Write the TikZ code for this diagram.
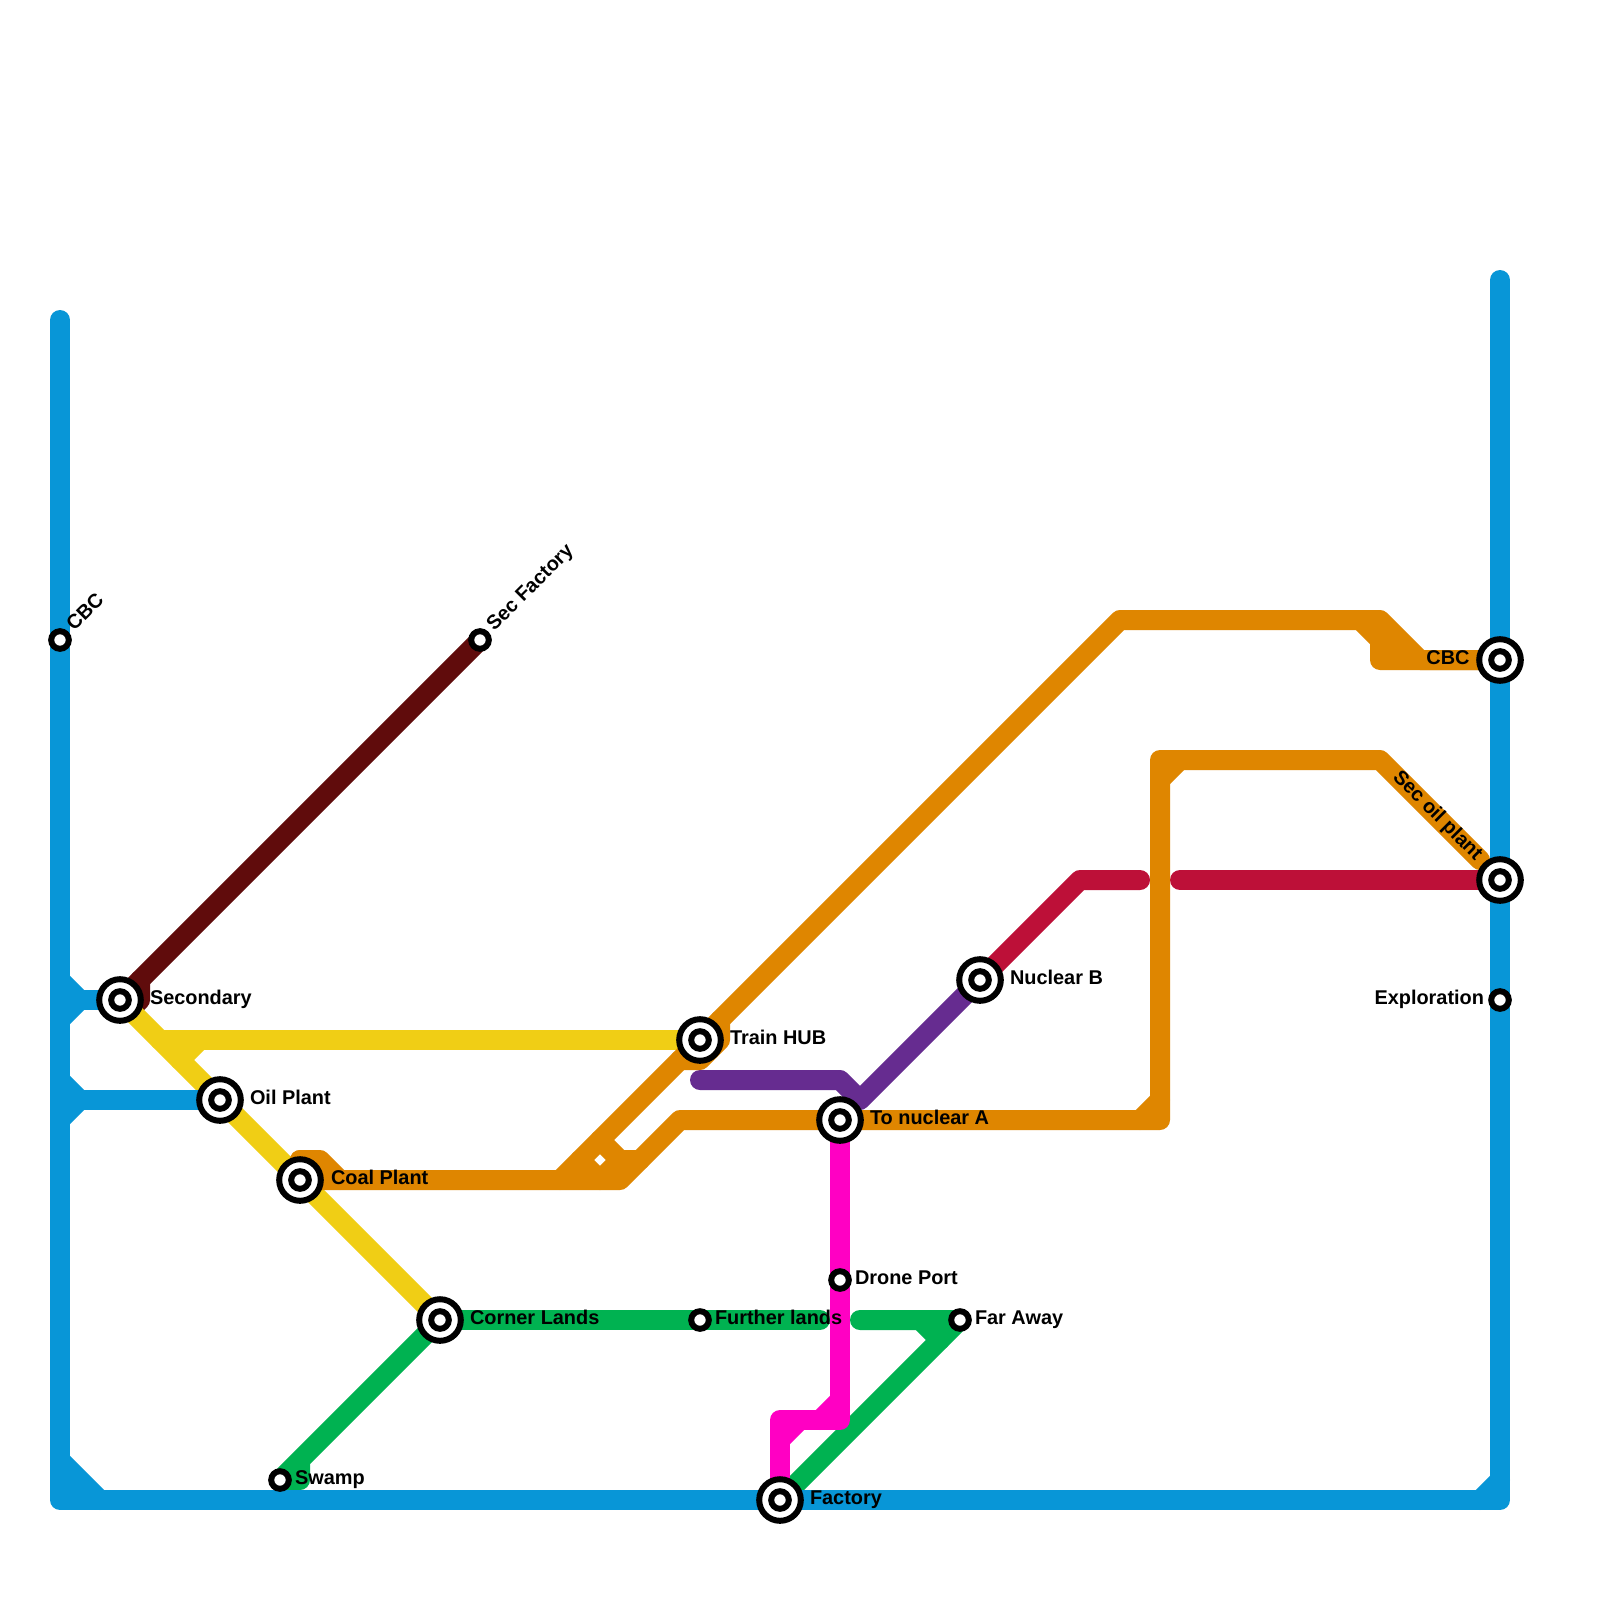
\documentclass[tikz,border=0pt]{standalone}
\usepackage{fontspec}
\setmainfont{Liberation Sans}[BoldFont={Liberation Sans Bold}]
\definecolor{lblue}{HTML}{0896D7}
\definecolor{lyellow}{HTML}{F0CE15}
\definecolor{lorange}{HTML}{DF8600}
\definecolor{lred}{HTML}{BD1038}
\definecolor{lpurple}{HTML}{662C90}
\definecolor{lpink}{HTML}{FF00C3}
\definecolor{lgreen}{HTML}{00B251}
\definecolor{lbrown}{HTML}{600C0C}
\tikzset{
  metro/.style={line width=20pt,line cap=round,line join=round},
  ringout/.style={circle,draw=black,fill=white,line width=6pt,minimum size=41.6pt,inner sep=0pt,outer sep=0pt},
  ringin/.style={circle,draw=black,fill=white,line width=6pt,minimum size=17.6pt,inner sep=0pt,outer sep=0pt},
  lab/.style={font=\fontsize{19.9pt}{24pt}\selectfont\bfseries,text=black,inner sep=0pt,outer sep=0pt},
  labr/.style={lab,anchor=base west},
  labl/.style={lab,anchor=base east}
}
\begin{document}
\begin{tikzpicture}[x=1pt,y=-1pt]
\useasboundingbox (0,0) rectangle (1600,1600);
\fill[white] (0,0) rectangle (1600,1600);
% stations
\coordinate (sSecondary) at (120,1000);
\coordinate (sOil) at (220,1100);
\coordinate (sCoal) at (300,1180);
\coordinate (sCorner) at (440,1320);
\coordinate (sHub) at (700,1040);
\coordinate (sNucA) at (840,1120);
\coordinate (sFactory) at (780,1500);
\coordinate (sNucB) at (980,980);
\coordinate (sCbcR) at (1500,660);
\coordinate (sSecOil) at (1500,880);
\coordinate (sExpl) at (1500,1000);
\coordinate (sFar) at (960,1320);
\coordinate (sDrone) at (840,1280);
\coordinate (sFurther) at (700,1320);
\coordinate (sSwamp) at (280,1480);
\coordinate (sCbcL) at (60,640);
\coordinate (sSecFac) at (480,640);
% waypoints: green
\coordinate (g1) at (820,1320);
\coordinate (g2) at (860,1320);
\coordinate (g3) at (920,1320);
\coordinate (g4) at (940,1340);
\coordinate (g5) at (300,1460);
\coordinate (g6) at (300,1480);
% waypoints: pink
\coordinate (p1) at (840,1420);
\coordinate (p2) at (780,1420);
\coordinate (p3) at (840,1400);
\coordinate (p4) at (820,1420);
\coordinate (p5) at (800,1420);
\coordinate (p6) at (780,1440);
% waypoints: brown
\coordinate (br1) at (140,980);
\coordinate (br2) at (140,1000);
\coordinate (br3) at (130,1010);
% waypoints: yellow
\coordinate (y1) at (160,1040);
\coordinate (y2) at (200,1040);
\coordinate (y3) at (180,1060);
% waypoints: orange
\coordinate (o1) at (320,1160);
\coordinate (o2) at (300,1160);
\coordinate (o3) at (340,1180);
\coordinate (o4) at (620,1180);
\coordinate (o5) at (680,1120);
\coordinate (o6) at (560,1180);
\coordinate (o7) at (1120,620);
\coordinate (o8) at (1380,620);
\coordinate (o9) at (1420,660);
\coordinate (o10) at (1360,620);
\coordinate (o11) at (1380,640);
\coordinate (o12) at (1380,660);
\coordinate (o13) at (720,1020);
\coordinate (o14) at (720,1040);
\coordinate (o15) at (700,1060);
\coordinate (o16) at (680,1060);
\coordinate (o17) at (600,1140);
\coordinate (o18) at (620,1160);
\coordinate (o19) at (640,1160);
\coordinate (o20) at (600,1180);
\coordinate (o21) at (580,1160);
\coordinate (o22) at (1160,1120);
\coordinate (o23) at (1160,760);
\coordinate (o24) at (1380,760);
\coordinate (o25) at (1480,860);
\coordinate (o26) at (1160,780);
\coordinate (o27) at (1180,760);
\coordinate (o28) at (1160,1100);
\coordinate (o29) at (1140,1120);
% waypoints: red
\coordinate (r1) at (1180,880);
\coordinate (r2) at (1140,880);
\coordinate (r3) at (1080,880);
% waypoints: purple
\coordinate (v1) at (700,1080);
\coordinate (v2) at (840,1080);
\coordinate (v3) at (860,1100);
% waypoints: blue
\coordinate (b1) at (60,320);
\coordinate (b2) at (60,1500);
\coordinate (b3) at (1500,1500);
\coordinate (b4) at (1500,280);
\coordinate (b5) at (60,980);
\coordinate (b6) at (80,1000);
\coordinate (b7) at (60,1020);
\coordinate (b8) at (60,1080);
\coordinate (b9) at (80,1100);
\coordinate (b10) at (60,1120);
\coordinate (b11) at (60,1460);
\coordinate (b12) at (100,1500);
\coordinate (b13) at (1500,1480);
\coordinate (b14) at (1480,1500);
% lines
\draw[metro,lgreen] (sFurther) -- (g1);
\draw[metro,lgreen] (sCorner) -- (sFurther);
\draw[metro,lgreen] (g2) -- (sFar) -- (sFactory);
\draw[metro,lgreen] (g3) -- (g4);
\draw[metro,lgreen] (sCorner) -- (g5) -- (g6) -- (sSwamp) -- (g5);
\draw[metro,lpink] (sNucA) -- (p1) -- (p2) -- (sFactory);
\draw[metro,lpink] (p3) -- (p4);
\draw[metro,lpink] (p5) -- (p6);
\draw[metro,lbrown] (sSecFac) -- (sSecondary);
\draw[metro,lbrown] (br1) -- (br2) -- (br3);
\draw[metro,lyellow] (sSecondary) -- (sCorner);
\draw[metro,lyellow] (y1) -- (sHub);
\draw[metro,lyellow] (y2) -- (y3);
\draw[metro,lred] (sSecOil) -- (r1);
\draw[metro,lred] (r2) -- (r3) -- (sNucB);
\draw[metro,lpurple] (v1) -- (v2) -- (v3) -- (sNucB);
\draw[metro,lorange] (o2) -- (sCoal);
\draw[metro,lorange] (o2) -- (o1) -- (o3);
\draw[metro,lorange] (sCoal) -- (o4) -- (o5) -- (sNucA);
\draw[metro,lorange] (o6) -- (sHub) -- (o7) -- (o8) -- (o9) -- (sCbcR);
\draw[metro,lorange] (o10) -- (o11) -- (o12) -- (sCbcR);
\fill[lorange] (o8) -- (o9) -- (o12) -- cycle;
\draw[metro,lorange] (o13) -- (o14) -- (o15) -- (o16);
\draw[metro,lorange] (o17) -- (o18) -- (o19);
\draw[metro,lorange] (o18) -- (o20);
\draw[metro,lorange] (o21) -- (o20);
\draw[metro,lorange] (sNucA) -- (o22) -- (o23) -- (o24) -- (o25);
\draw[metro,lorange] (o26) -- (o27);
\draw[metro,lorange] (o28) -- (o29);
\draw[metro,lblue] (b1) -- (b2) -- (b3) -- (b4);
\draw[metro,lblue] (b5) -- (b6) -- (b7);
\draw[metro,lblue] (b6) -- (sSecondary);
\draw[metro,lblue] (b8) -- (b9) -- (b10);
\draw[metro,lblue] (b9) -- (sOil);
\draw[metro,lblue] (b11) -- (b12);
\fill[lblue] (b11) -- (b12) -- (b2) -- cycle;
\draw[metro,lblue] (b13) -- (b14);
% interchanges
\foreach \s in {sSecondary,sOil,sCoal,sCorner,sHub,sNucA,sFactory,sNucB,sCbcR,sSecOil}{
  \node[ringout] (out\s) at (\s) {};
  \node[ringin] (in\s) at (\s) {};
}
\foreach \s in {sExpl,sFar,sDrone,sFurther,sSwamp,sCbcL,sSecFac}{
  \node[ringin] (in\s) at (\s) {};
}
% labels
\node[labr] (tSecondary) at (150,1004.5) {Secondary};
\node[labr] (tOil) at (250,1104.5) {Oil Plant};
\node[labr] (tCoal) at (331,1184.5) {Coal Plant};
\node[labr] (tCorner) at (470,1324.5) {Corner Lands};
\node[labr] (tHub) at (730,1044.5) {Train HUB};
\node[labr] (tNucA) at (870,1124.5) {To nuclear A};
\node[labr] (tFactory) at (810,1504.5) {Factory};
\node[labr] (tNucB) at (1010,984.5) {Nuclear B};
\node[labr] (tFar) at (975,1324.5) {Far Away};
\node[labr] (tDrone) at (855,1284.5) {Drone Port};
\node[labr] (tFurther) at (715,1324.5) {Further lands};
\node[labr] (tSwamp) at (295,1484.5) {Swamp};
\node[labl] (tCbcR) at (1469.5,664.5) {CBC};
\node[labl] (tExpl) at (1484,1004.5) {Exploration};
\node[labr,rotate=45] (tCbcL) at (74.4,631.8) {CBC};
\node[labr,rotate=45] (tSecFac) at (494.4,631.8) {Sec Factory};
\node[labl,rotate=-45] (tSecOil) at (1475,861.2) {Sec oil plant};
\end{tikzpicture}
\end{document}
